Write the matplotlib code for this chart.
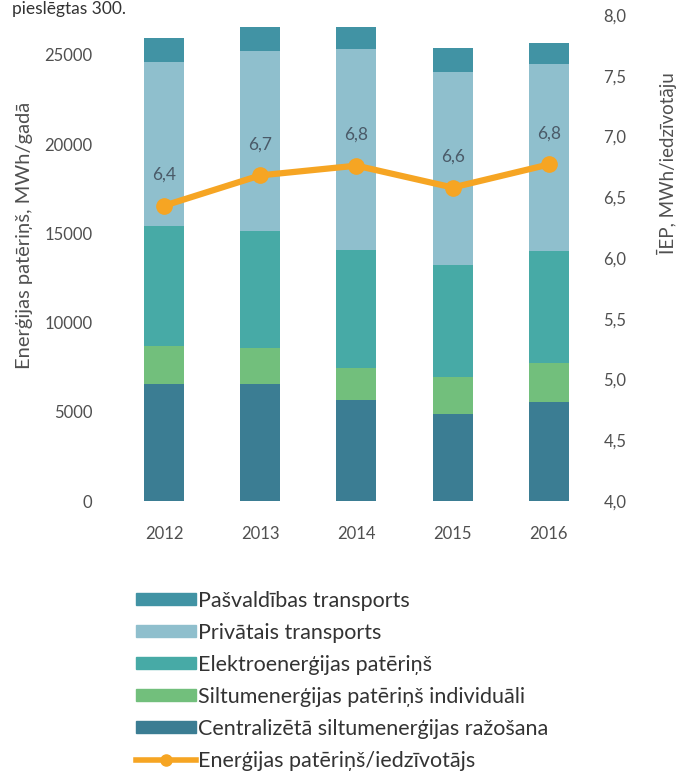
import matplotlib
matplotlib.use("Agg")
import matplotlib.pyplot as plt
from matplotlib.patches import Patch
from matplotlib.lines import Line2D

plt.rcParams['font.family'] = ['Lato', 'DejaVu Sans']

years = ["2012", "2013", "2014", "2015", "2016"]
central = [6560, 6560, 5660, 4880, 5530]
individual = [2145, 2000, 1815, 2090, 2185]
electricity = [6710, 6575, 6595, 6260, 6315]
private = [9210, 10090, 11250, 10840, 10450]
municipal = [1310, 1345, 1250, 1345, 1180]
per_capita = [6.43, 6.68, 6.76, 6.58, 6.77]

series_names = ["Pašvaldības transports", "Privātais transports",
                "Elektroenerģijas patēriņš", "Siltumenerģijas patēriņš individuāli",
                "Centralizētā siltumenerģijas ražošana"]
line_name = "Enerģijas patēriņš/iedzīvotājs"
left_label = "Enerģijas patēriņš, MWh/gadā"
right_label = "ĪEP, MWh/iedzīvotāju"
left_ticks = [0, 5000, 10000, 15000, 20000, 25000]
right_ticks = [4.0, 4.5, 5.0, 5.5, 6.0, 6.5, 7.0, 7.5, 8.0]

c_central = "#3b7d93"
c_ind = "#72bf7c"
c_el = "#47aaa6"
c_priv = "#8fbfcd"
c_mun = "#4193a4"
c_line = "#f6a523"
txt = "#505050"

W, H = 680, 771
fig = plt.figure(figsize=(W / 100, H / 100), dpi=100)
ax = fig.add_axes([112 / W, 270 / H, 486 / W, 486 / H])

x = list(range(len(years)))
bw = 0.415
stack = [central, individual, electricity, private, municipal]
cols = [c_central, c_ind, c_el, c_priv, c_mun]
bottom = [0] * len(years)
for vals, c in zip(stack, cols):
    ax.bar(x, vals, bw, bottom=bottom, color=c, zorder=2)
    bottom = [b + v for b, v in zip(bottom, vals)]

ax.set_xlim(-0.54, 4.51)
ax.set_ylim(0, 27240)
ax.set_yticks(left_ticks)
ax.set_yticklabels([str(t) for t in left_ticks])
ax.set_xticks(x)
ax.set_xticklabels(years)
for s in ax.spines.values():
    s.set_visible(False)
ax.tick_params(length=0, labelsize=12, labelcolor=txt)
ax.tick_params(axis='y', pad=14)
ax.tick_params(axis='x', pad=18)
ax.set_ylabel(left_label, fontsize=14.5, color=txt)
ax.yaxis.set_label_coords(-0.162, 0.547)

ax2 = ax.twinx()
ax2.set_ylim(4.0, 8.0)
ax2.set_yticks(right_ticks)
ax2.set_yticklabels([f"{t:.1f}".replace(".", ",") for t in right_ticks])
for s in ax2.spines.values():
    s.set_visible(False)
ax2.tick_params(length=0, labelsize=12, labelcolor=txt, pad=4)
ax2.set_ylabel(right_label, fontsize=13.5, color=txt)
ax2.yaxis.set_label_coords(1.121, 0.695)
ax2.plot(x, per_capita, color=c_line, lw=4.5, marker='o', ms=11, zorder=3)
for xi, v in zip(x, per_capita):
    ax2.annotate(f"{v:.1f}".replace(".", ","), (xi, v), xytext=(0, 31),
                 textcoords="offset pixels",
                 ha='center', va='center', fontsize=12.5, color="#4a5a68")

handles = [Patch(color=c) for c in [c_mun, c_priv, c_el, c_ind, c_central]]
handles.append(Line2D([0], [0], color=c_line, lw=4, marker='o', ms=8))
fs = 15.5
leg = fig.legend(handles, series_names + [line_name], loc='upper left',
                 bbox_to_anchor=(127 / W, 1 - 582 / H), frameon=False,
                 fontsize=fs, handlelength=2.8, handleheight=0.45,
                 handletextpad=0.1, labelspacing=0.56, borderaxespad=0)
for t in leg.get_texts():
    t.set_color("#333333")

fig.text(12 / W, 1 - 1 / H, "pieslēgtas 300.", fontsize=12.5, color="#333333",
         ha='left', va='top')

fig.savefig("out.png", dpi=100)
